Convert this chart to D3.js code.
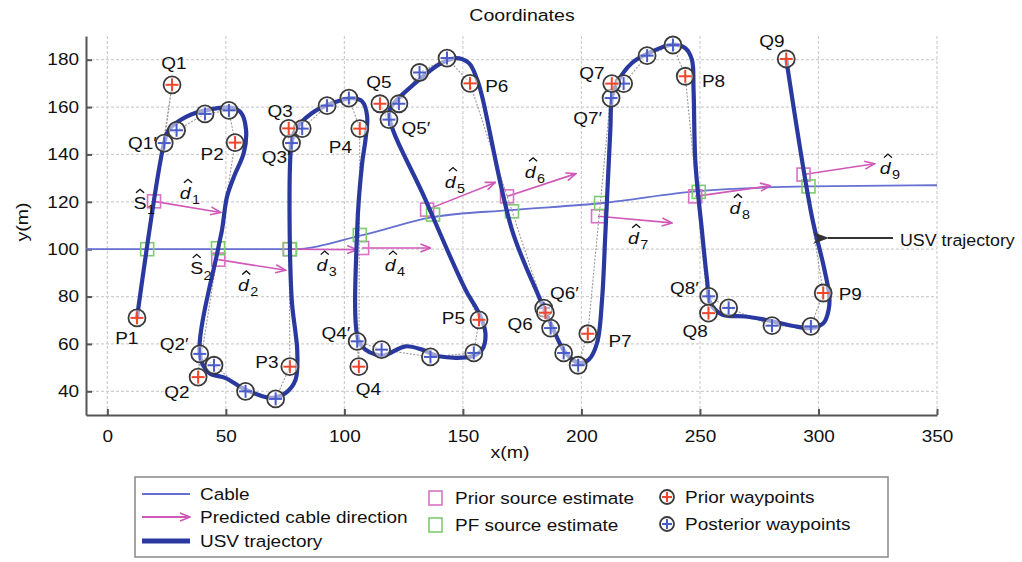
<!DOCTYPE html>
<html>
<head>
<meta charset="utf-8">
<script src="https://cdn.jsdelivr.net/npm/d3@7"></script>
<style>
  body { margin: 0; background: #fff; }
  svg text { font-family: "Liberation Sans", Arial, sans-serif; fill: #111; }
</style>
</head>
<body>
<div id="chart"></div>
<script>
const widthChart = 1022;
const heightChart = 562;
const stretch = "scale(1.15,1)";

// cable (true route)
const cable = [[-9, 100], [78, 100], [108, 106], [137, 113.5], [170, 116.5], [209, 119.5], [249, 124.5], [296, 126.5], [350, 127]];

// USV trajectory
const trajectory = [
  [12.5, 71], [24, 145], [26, 150.5], [33.2, 155.9], [42.9, 158.9], [52.6, 159.7], [56.4, 157.6], [58.5, 150.5],
  [57.6, 140.8], [53.4, 130.6], [50.5, 122.2], [48.4, 108.3], [46.7, 100], [39, 55.5], [42.9, 47.8], [49.9, 45.6],
  [58.3, 40.7], [69.6, 37.2], [75.2, 39.3], [79.4, 44.9], [80.1, 57.5], [79.4, 64.6], [77.7, 80], [77.7, 144.8],
  [79.4, 150.5], [86.4, 157.5], [94.9, 161.7], [103.3, 163.8], [107.5, 162.4], [109.6, 156.1], [108.9, 146.2],
  [107.5, 136.4], [105.4, 108.2], [105.8, 61.8], [108.9, 57.6], [113.2, 55.5], [117, 55.2], [125.8, 59],
  [132.8, 57.6], [139.8, 54.8], [153.9, 54.8], [158.1, 57.6], [159.5, 64.6], [156.7, 73.1], [151.1, 82.9],
  [134.2, 120.9], [118.8, 157.5], [121.6, 162.4], [130, 170.2], [139.8, 177.9], [146.9, 180.7], [152.5, 178.6],
  [156, 171.6], [158.1, 164.5], [170.7, 108.2], [182, 80.1], [187.6, 67.4], [193.3, 56.2], [198.9, 52],
  [203.1, 53.4], [206.6, 60.4], [208.7, 78.7], [210.1, 106.8], [212.2, 150.5], [212.9, 164.5], [215, 170.2],
  [221.3, 178.6], [228.4, 182.8], [238.2, 186.3], [243.8, 184.9], [246.6, 180], [247.3, 167.3], [248.1, 136.4],
  [250.8, 108.2], [253, 87.1], [254.4, 77.3], [259.3, 72.4], [269.1, 71.6], [277.6, 70.2], [288.8, 67.7],
  [297.2, 66.7], [302.2, 68.9], [304.3, 74.5], [304.6, 80.1], [302.2, 92.8], [297.2, 113.9], [286.4, 180.3]
];

// prior waypoints
const priorNames = ["P1", "Q1", "P2", "Q2", "P3", "Q3", "P4", "Q4", "P5", "Q5", "P6", "Q6", "P7", "Q7", "P8", "Q8", "P9", "Q9"];
const priorX = [12.5, 27.3, 53.9, 38.3, 77, 76.5, 106.5, 106.1, 156.8, 115, 153, 184.8, 202.7, 212.8, 243.8, 253.6, 302, 286.4];
const priorY = [71, 169.4, 145, 46, 50.4, 151, 150.9, 50.4, 70.2, 161.4, 170, 73.2, 64.3, 169.9, 173, 73, 81.5, 180.3];

// posterior waypoints, 4 per turn (first one is Qi')
const posteriorX = [
  24, 29.2, 41.2, 51.3,   39, 45, 58.3, 71,   77.7, 82.2, 92.7, 101.9,   105.4, 115.7, 136.3, 154.6,
  118.8, 123, 131.7, 143.3,   184.1, 187, 192.5, 198.6,   212.5, 217.8, 227.7, 238.6,   253.7, 262.1, 280.4, 296.8
];
const posteriorY = [
  144.8, 150.2, 157.1, 158.6,   55.8, 51, 40, 36.8,   144.8, 150.9, 160.6, 163.8,   61.1, 57.6, 54.5, 56.2,
  154.7, 161.4, 174.6, 180.7,   75.1, 66.7, 56.2, 51,   163.8, 169.9, 181.7, 186.2,   80.1, 75.2, 67.7, 67.4
];

// prior source estimates and predicted cable direction (arrow end)
const priorSrcX = [19.7, 46.8, 77, 107.5, 134.9, 168.6, 207, 248, 293.7];
const priorSrcY = [120.2, 95.6, 100, 100.5, 116.7, 122.3, 113.9, 122.3, 131.5];
const dirEndX = [47.8, 75.2, 105.4, 136.3, 163.7, 197.7, 238.2, 279.7, 323.7];
const dirEndY = [115.5, 91.1, 99.8, 100.5, 128.2, 131.9, 111.1, 126.8, 136.1];

// PF source estimates
const pfSrcX = [16.8, 46.7, 77, 106.5, 137.4, 170.7, 208.3, 249.5, 295.8];
const pfSrcY = [100, 100.4, 100, 106, 114.6, 116, 119.5, 124.2, 126.5];

// waypoint labels
const wpLabels = [
  ["Q1", 28.1, 178.6], ["Q1\u2032", 14.8, 144.8], ["P2", 44.2, 139.8], ["P1", 8.2, 62.4], ["Q2\u2032", 28.2, 59.6],
  ["Q2", 29.3, 39.4], ["P3", 67.3, 52.1], ["Q3", 72.9, 158.3], ["Q3\u2032", 71.2, 138.9], ["P4", 98.3, 143.1],
  ["Q4\u2032", 96.4, 64.5], ["Q4", 110.1, 40.6], ["Q5", 114.6, 170.6], ["Q5\u2032", 130.2, 151], ["P5", 146, 70.8],
  ["P6", 164.3, 168.6], ["Q6\u2032", 192.8, 81.4], ["Q6", 174.1, 68.4], ["P7", 216.3, 61], ["Q7", 204.4, 174.3],
  ["Q7\u2032", 202.6, 155.3], ["P8", 255.7, 170.7], ["Q8\u2032", 243.4, 83.5], ["Q8", 248, 65.2], ["P9", 313.4, 80.7],
  ["Q9", 280.3, 187.6]
];

// hat labels
const hatLabels = [
  ["S", "1", 13.8, 119.4], ["S", "2", 37.7, 91.9],
  ["d", "1", 32.8, 123.6], ["d", "2", 57.4, 84.9], ["d", "3", 90.5, 93.3], ["d", "4", 119.3, 93.3], ["d", "5", 144.6, 128.5],
  ["d", "6", 178.4, 132.7], ["d", "7", 221.9, 104.6], ["d", "8", 264.8, 117.3], ["d", "9", 328.1, 134.2]
];

const xTicks = [0, 50, 100, 150, 200, 250, 300, 350];
const yTicks = [40, 60, 80, 100, 120, 140, 160, 180];

const colCable = "#6670d2";
const colTraj = "#2a399f";
const colDir = "#d058b8";
const colPrior = "#d872c6";
const colPF = "#7dcc6e";
const colRed = "#f2462a";
const colBlue = "#4a5cc8";

const svg = d3.select("#chart").append("svg")
    .attr("width", widthChart)
    .attr("height", heightChart);

const x = d3.scaleLinear().domain([-9, 350]).range([86, 937]);
const y = d3.scaleLinear().domain([30, 190]).range([415, 36]);

function txt(parent, px, py, str, size, anchor, sc) {
    return parent.append("text")
        .attr("transform", "translate(" + px + "," + py + ") " + (sc || stretch))
        .attr("text-anchor", anchor || "start")
        .attr("dominant-baseline", "central")
        .style("font-size", size + "px")
        .text(str);
}

const defs = svg.append("defs");
defs.append("marker")
    .attr("id", "headDir")
    .attr("viewBox", "0 0 12 10")
    .attr("refX", 11).attr("refY", 5)
    .attr("markerWidth", 12).attr("markerHeight", 10)
    .attr("markerUnits", "userSpaceOnUse")
    .attr("orient", "auto")
    .append("path")
    .attr("d", "M1,1 L11,5 L1,9")
    .attr("fill", "none")
    .attr("stroke", colDir)
    .attr("stroke-width", 1.6);
defs.append("marker")
    .attr("id", "headAnn")
    .attr("viewBox", "0 0 16 12")
    .attr("refX", 1).attr("refY", 6)
    .attr("markerWidth", 16).attr("markerHeight", 12)
    .attr("markerUnits", "userSpaceOnUse")
    .attr("orient", "auto")
    .append("path")
    .attr("d", "M16,0 L0,6 L16,12 L11,6 Z")
    .attr("fill", "#333");

// grid
svg.append("g").selectAll("line").data(yTicks).enter().append("line")
    .attr("x1", 86).attr("x2", 937)
    .attr("y1", d => y(d)).attr("y2", d => y(d))
    .attr("stroke", "#cfcfcf").attr("stroke-width", 1.2).attr("stroke-dasharray", "3,2");
svg.append("g").selectAll("line").data(xTicks).enter().append("line")
    .attr("x1", d => x(d)).attr("x2", d => x(d))
    .attr("y1", 36).attr("y2", 415)
    .attr("stroke", "#cfcfcf").attr("stroke-width", 1.2).attr("stroke-dasharray", "3,2");

// axes
const yAxis = svg.append("g")
    .attr("transform", "translate(86,0)")
    .call(d3.axisLeft(y).tickValues(yTicks).tickSizeInner(-6).tickSizeOuter(0).tickPadding(7));
const xAxis = svg.append("g")
    .attr("transform", "translate(0,415)")
    .call(d3.axisBottom(x).tickValues(xTicks).tickSizeInner(-6).tickSizeOuter(0).tickPadding(15));
[xAxis, yAxis].forEach(a => {
    a.select(".domain").attr("stroke", "#555").attr("stroke-width", 2);
    a.selectAll(".tick line").attr("stroke", "#555").attr("stroke-width", 2);
    a.selectAll(".tick text").style("font-size", "16.5px").attr("fill", "#111").attr("transform", stretch);
});
yAxis.selectAll(".tick text").attr("x", -7 / 1.15);

txt(svg, 522, 15, "Coordinates", 17, "middle");
txt(svg, 510, 452, "x(m)", 17, "middle");
svg.append("text").attr("transform", "translate(22,222) rotate(-90) " + stretch).attr("text-anchor", "middle")
    .attr("dominant-baseline", "central").style("font-size", "17px").text("y(m)");

// cable
svg.append("path")
    .attr("d", d3.line().x(d => x(d[0])).y(d => y(d[1])).curve(d3.curveMonotoneX)(cable))
    .attr("fill", "none").attr("stroke", colCable).attr("stroke-width", 1.8);

// planned route (gray dotted)
const planned = [];
for (let i = 0; i < 9; i++) {
    planned.push([priorX[2 * i], priorY[2 * i]]);
    planned.push([priorX[2 * i + 1], priorY[2 * i + 1]]);
    if (i < 8) {
        for (let k = 0; k < 4; k++) planned.push([posteriorX[4 * i + k], posteriorY[4 * i + k]]);
    }
}
svg.append("path")
    .attr("d", d3.line().x(d => x(d[0])).y(d => y(d[1]))(planned))
    .attr("fill", "none").attr("stroke", "#9a9a9a").attr("stroke-width", 1.1).attr("stroke-dasharray", "2,1.5");

// predicted direction arrows
svg.append("g").selectAll("line").data(priorSrcX).enter().append("line")
    .attr("x1", (d, i) => x(d)).attr("y1", (d, i) => y(priorSrcY[i]))
    .attr("x2", (d, i) => x(dirEndX[i])).attr("y2", (d, i) => y(dirEndY[i]))
    .attr("stroke", colDir).attr("stroke-width", 1.6)
    .attr("marker-end", "url(#headDir)");

// source estimate squares
svg.append("g").selectAll("rect").data(priorSrcX).enter().append("rect")
    .attr("x", (d, i) => x(d) - 6.5).attr("y", (d, i) => y(priorSrcY[i]) - 6.5)
    .attr("width", 13).attr("height", 13)
    .attr("fill", "none").attr("stroke", colPrior).attr("stroke-width", 1.6);
svg.append("g").selectAll("rect").data(pfSrcX).enter().append("rect")
    .attr("x", (d, i) => x(d) - 6.5).attr("y", (d, i) => y(pfSrcY[i]) - 6.5)
    .attr("width", 13).attr("height", 13)
    .attr("fill", "none").attr("stroke", colPF).attr("stroke-width", 1.6);

// trajectory
svg.append("path")
    .attr("d", d3.line().x(d => x(d[0])).y(d => y(d[1])).curve(d3.curveCatmullRom.alpha(0.5))(trajectory))
    .attr("fill", "none").attr("stroke", colTraj).attr("stroke-width", 4.2)
    .attr("stroke-linejoin", "round").attr("stroke-linecap", "round");

function waypoint(g, cx, cy, col, r) {
    const m = g.append("g").attr("transform", "translate(" + cx + "," + cy + ")");
    m.append("circle").attr("r", r)
        .attr("fill", "rgba(255,255,255,0.55)").attr("stroke", "#3a3a3a").attr("stroke-width", 1.8);
    m.append("line").attr("x1", -r + 2).attr("x2", r - 2).attr("y1", 0).attr("y2", 0)
        .attr("stroke", col).attr("stroke-width", 2);
    m.append("line").attr("y1", -r + 2).attr("y2", r - 2).attr("x1", 0).attr("x2", 0)
        .attr("stroke", col).attr("stroke-width", 2);
}

const wpG = svg.append("g");
posteriorX.forEach((d, i) => waypoint(wpG, x(d), y(posteriorY[i]), colBlue, 8.5));
priorX.forEach((d, i) => waypoint(wpG, x(d), y(priorY[i]), colRed, 8.5));

// labels
const labG = svg.append("g");
wpLabels.forEach(d => txt(labG, x(d[1]), y(d[2]), d[0], 16.5, "middle"));

const hatG = svg.append("g");
hatLabels.forEach(d => {
    const g = hatG.append("g").attr("transform", "translate(" + x(d[2]) + "," + y(d[3]) + ") " + stretch);
    const italic = d[0] === "d";
    const hx = italic ? 2.5 : 0;
    g.append("text").attr("text-anchor", "middle").attr("dominant-baseline", "central")
        .style("font-size", "17px").style("font-style", italic ? "italic" : "normal").text(d[0]);
    g.append("path")
        .attr("d", "M" + (hx - 3.5) + ",-10.5 L" + hx + ",-14 L" + (hx + 3.5) + ",-10.5")
        .attr("fill", "none").attr("stroke", "#111").attr("stroke-width", 1.2);
    g.append("text").attr("x", 6).attr("y", 7)
        .attr("dominant-baseline", "central").style("font-size", "12.5px").text(d[1]);
});

// annotation
svg.append("line").attr("x1", 893).attr("y1", 238).attr("x2", 828).attr("y2", 238)
    .attr("stroke", "#333").attr("stroke-width", 2.2).attr("marker-end", "url(#headAnn)");
txt(svg, 900, 240, "USV trajectory", 16.5, "start", "scale(1.08,1)");

// legend
const lg = svg.append("g");
lg.append("rect").attr("x", 135).attr("y", 477).attr("width", 753).attr("height", 80)
    .attr("fill", "#fff").attr("stroke", "#888").attr("stroke-width", 1.5);
lg.append("line").attr("x1", 142).attr("x2", 190).attr("y1", 494).attr("y2", 494)
    .attr("stroke", colCable).attr("stroke-width", 2);
lg.append("line").attr("x1", 142).attr("x2", 190).attr("y1", 517).attr("y2", 517)
    .attr("stroke", colDir).attr("stroke-width", 2).attr("marker-end", "url(#headDir)");
lg.append("line").attr("x1", 142).attr("x2", 190).attr("y1", 541).attr("y2", 541)
    .attr("stroke", colTraj).attr("stroke-width", 5);
lg.append("rect").attr("x", 429).attr("y", 491).attr("width", 13).attr("height", 14)
    .attr("fill", "none").attr("stroke", colPrior).attr("stroke-width", 1.6);
lg.append("rect").attr("x", 429).attr("y", 518).attr("width", 13).attr("height", 14)
    .attr("fill", "none").attr("stroke", colPF).attr("stroke-width", 1.6);
waypoint(lg, 667, 497, colRed, 7);
waypoint(lg, 667, 524, colBlue, 7);
const legendText = [["Cable", 200, 494], ["Predicted cable direction", 200, 517], ["USV trajectory", 200, 541],
    ["Prior source estimate", 455, 498], ["PF source estimate", 455, 525],
    ["Prior waypoints", 685, 497], ["Posterior waypoints", 685, 524]];
legendText.forEach(d => txt(lg, d[1], d[2], d[0], 16.5));
</script>
</body>
</html>
